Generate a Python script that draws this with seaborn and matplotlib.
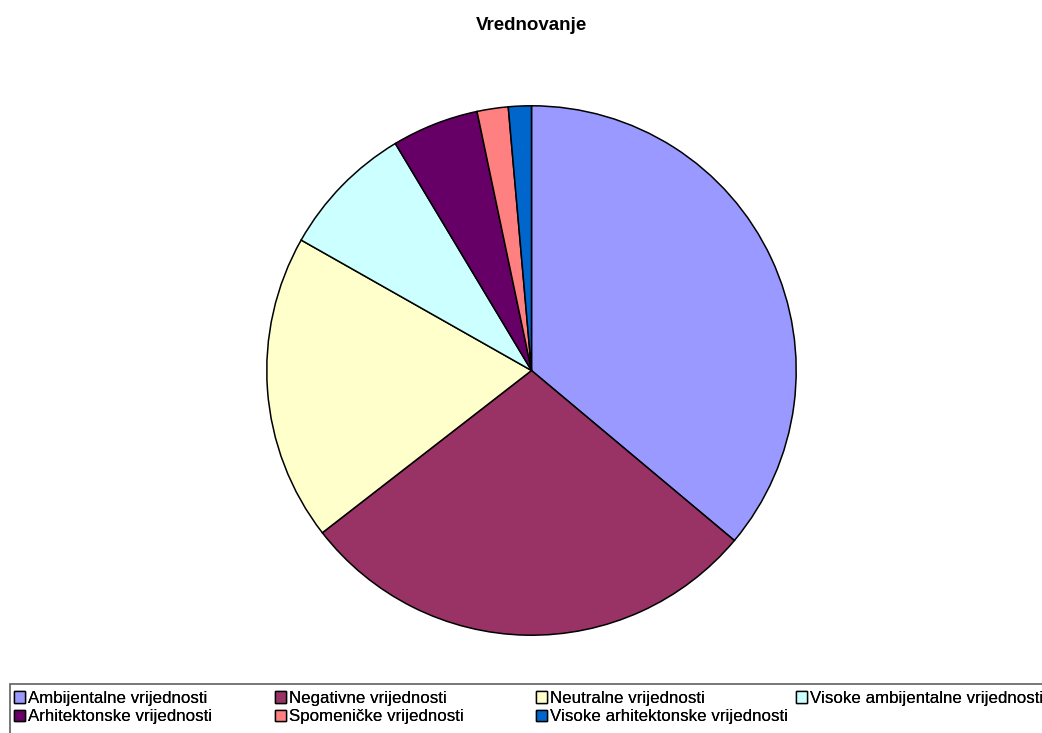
import matplotlib
matplotlib.use("Agg")
import matplotlib.pyplot as plt
from matplotlib.patches import Patch, Rectangle
import seaborn as sns


TITLE = "Vrednovanje"

categories = [
    "Ambijentalne vrijednosti",
    "Negativne vrijednosti",
    "Neutralne vrijednosti",
    "Visoke ambijentalne vrijednosti",
    "Arhitektonske vrijednosti",
    "Spomeničke vrijednosti",
    "Visoke arhitektonske vrijednosti",
]
shares = [36.1, 28.4, 18.7, 8.2, 5.3, 1.9, 1.4]
slice_colors = ["#9999FF", "#993366", "#FFFFCC", "#CCFFFF", "#660066", "#FF8080", "#0066CC"]

W, H = 1042, 733


def style() -> None:
    sns.set_theme(style="white")
    plt.rcParams["font.family"] = ["Liberation Sans", "DejaVu Sans"]
    plt.rcParams["text.color"] = "black"


def main() -> None:
    style()
    palette = sns.color_palette(slice_colors)

    fig = plt.figure(figsize=(W / 100, H / 100), dpi=100)
    fig.patch.set_facecolor("white")

    # pie area: centre ~ (531, 370), radius ~ 265 px
    ax = fig.add_axes([266 / W, (H - 636) / H, 531 / W, 531 / H])
    ax.pie(
        shares,
        colors=palette,
        startangle=90,
        counterclock=False,
        radius=1,
        wedgeprops={"edgecolor": "black", "linewidth": 1.1},
    )
    ax.set_xlim(-1.003, 1.003)
    ax.set_ylim(-1.003, 1.003)
    ax.set_aspect("equal")
    ax.axis("off")

    fig.text(531 / W, 1 - 25 / H, TITLE, ha="center", va="center",
             fontsize=13.5, fontweight="bold", color="black")

    # legend frame (runs off the right edge like the original)
    fig.patches.append(Rectangle((10 / W, -0.01), 1.1, (H - 684) / H + 0.01,
                                 transform=fig.transFigure, fill=False,
                                 edgecolor="#606060", linewidth=1.2))

    handles = [Patch(facecolor=c, edgecolor="black", linewidth=1.0) for c in palette]
    # Excel fills the legend row-wise across 4 fixed-width columns
    ncol = 4
    col_x = [14, 275, 536, 796]
    for ci in range(ncol):
        idx = list(range(ci, len(categories), ncol))
        leg = fig.legend(
            [handles[i] for i in idx],
            [categories[i] for i in idx],
            loc="upper left",
            bbox_to_anchor=(col_x[ci] / W, 1 - 691 / H),
            bbox_transform=fig.transFigure,
            frameon=False,
            fontsize=12.2,
            labelcolor="black",
            handlelength=0.65,
            handleheight=0.65,
            handletextpad=0.2,
            labelspacing=0.2,
            borderpad=0,
            borderaxespad=0,
        )
        fig.add_artist(leg)

    fig.savefig("out.png", dpi=100)
    plt.close(fig)


if __name__ == "__main__":
    main()
